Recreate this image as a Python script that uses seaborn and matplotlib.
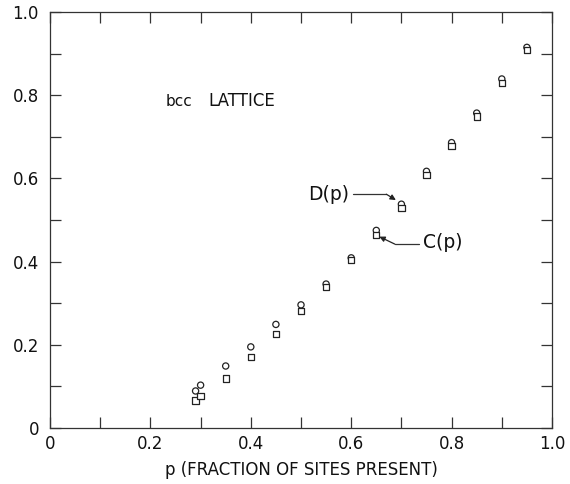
import matplotlib
matplotlib.use("Agg")
import matplotlib.pyplot as plt
import seaborn as sns
import pandas as pd
import numpy as np

# ---- data ----
p_values = [0.29, 0.30, 0.35, 0.40, 0.45, 0.50, 0.55, 0.60, 0.65, 0.70, 0.75, 0.80, 0.85, 0.90, 0.95]
circle_values = [0.089, 0.103, 0.149, 0.195, 0.249, 0.296, 0.346, 0.409, 0.475, 0.538, 0.617, 0.686, 0.757, 0.839, 0.915]
square_values = [0.066, 0.076, 0.119, 0.170, 0.226, 0.282, 0.338, 0.403, 0.464, 0.528, 0.609, 0.677, 0.749, 0.830, 0.908]
x_tick_labels = ["0", "", "0.2", "", "0.4", "", "0.6", "", "0.8", "", "1.0"]
y_tick_labels = ["0", "", "0.2", "", "0.4", "", "0.6", "", "0.8", "", "1.0"]

df = pd.concat([
    pd.DataFrame({"p": p_values, "value": circle_values, "series": "C(p)"}),
    pd.DataFrame({"p": p_values, "value": square_values, "series": "D(p)"}),
])

sns.set_theme(style="white")
plt.rcParams["font.family"] = ["DejaVu Sans"]

fig = plt.figure(figsize=(5.70, 4.84), dpi=100)
ax = fig.add_axes([50 / 570, 56 / 484, 502 / 570, 416 / 484])

sns.scatterplot(data=df, x="p", y="value", style="series",
                markers={"C(p)": "o", "D(p)": "s"},
                s=20, facecolor="white", edgecolor="#222222", linewidth=0.9,
                legend=False, ax=ax, zorder=3)

ax.set_xlim(0, 1.0)
ax.set_ylim(0, 1.0)
ticks = np.arange(0, 11) / 10
ax.set_xticks(ticks)
ax.set_yticks(ticks)
ax.set_xticklabels(x_tick_labels, fontsize=12, color="#111111")
ax.set_yticklabels(y_tick_labels, fontsize=12, color="#111111")
ax.tick_params(axis="both", direction="in", length=8, width=0.9, color="#333333",
               top=True, right=True, bottom=True, left=True)
ax.tick_params(axis="x", pad=5)
ax.tick_params(axis="y", pad=8)
for sp in ax.spines.values():
    sp.set_color("#333333")
    sp.set_linewidth(0.9)

ax.set_xlabel("p (FRACTION OF SITES PRESENT)", fontsize=12, color="#111111", labelpad=6)
ax.set_ylabel("")

ax.text(0.230, 0.786, "bcc", fontsize=11, va="center", ha="left", color="#111111")
ax.text(0.315, 0.786, "LATTICE", fontsize=12, va="center", ha="left", color="#111111")

# labels with arrows
ax.text(0.514, 0.562, "D(p)", fontsize=13.5, va="center", ha="left", color="#111111")
ax.plot([0.604, 0.670], [0.562, 0.562], color="#333333", lw=0.9)
ax.annotate("", xy=(0.689, 0.548), xytext=(0.670, 0.562),
            arrowprops=dict(arrowstyle="-|>", color="#222222", lw=0.9,
                            mutation_scale=8, shrinkA=0, shrinkB=0))
ax.text(0.744, 0.446, "C(p)", fontsize=13.5, va="center", ha="left", color="#111111")
ax.plot([0.687, 0.736], [0.442, 0.442], color="#333333", lw=0.9)
ax.annotate("", xy=(0.656, 0.460), xytext=(0.687, 0.442),
            arrowprops=dict(arrowstyle="-|>", color="#222222", lw=0.9,
                            mutation_scale=8, shrinkA=0, shrinkB=0))

fig.savefig("out.png", dpi=100, facecolor="white")
